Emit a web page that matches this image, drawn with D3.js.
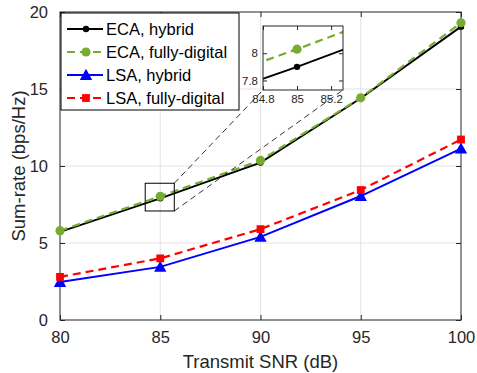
<!DOCTYPE html>
<html>
<head>
<meta charset="utf-8">
<script src="https://cdn.jsdelivr.net/npm/d3@7"></script>
<style>
body { margin: 0; background: #fff; }
svg { font-family: "Liberation Sans", Arial, sans-serif; }
</style>
</head>
<body>
<div id="chart"></div>
<script>
// data
var snr = [80, 85, 90, 95, 100];
var ecaHybrid = [5.72, 7.9, 10.22, 14.4, 19.05];
var ecaDigital = [5.8, 8.03, 10.36, 14.43, 19.3];
var lsaHybrid = [2.47, 3.45, 5.4, 8.05, 11.13];
var lsaDigital = [2.8, 4.0, 5.9, 8.44, 11.72];
var xTicks = [80, 85, 90, 95, 100];
var yTicks = [0, 5, 10, 15, 20];
var insetXTicks = [84.8, 85, 85.2];
var insetYTicks = [7.8, 8];
var zoomBox = {x0: 84.25, x1: 85.7, y0: 7.08, y1: 8.88};

var series = [
  {name: "ECA, hybrid", values: ecaHybrid, color: "#000000", dash: null, marker: "dot", width: 2},
  {name: "ECA, fully-digital", values: ecaDigital, color: "#77AC30", dash: "8,5", marker: "circle", width: 2.2},
  {name: "LSA, hybrid", values: lsaHybrid, color: "#0000FF", dash: null, marker: "triangle", width: 2},
  {name: "LSA, fully-digital", values: lsaDigital, color: "#FF0000", dash: "8,5", marker: "square", width: 2.2}
];

var W = 477, H = 373;
var margin = {top: 12, right: 16, bottom: 53, left: 60};
var width = W - margin.left - margin.right,
    height = H - margin.top - margin.bottom;

var svg = d3.select("#chart").append("svg")
  .attr("width", W).attr("height", H);
var g = svg.append("g")
  .attr("transform", "translate(" + margin.left + "," + margin.top + ")");

var x = d3.scaleLinear().domain([80, 100]).range([0, width]);
var y = d3.scaleLinear().domain([0, 20]).range([height, 0]);

// grid
g.append("g").selectAll("line").data(xTicks.slice(1, -1)).enter().append("line")
  .attr("x1", d => x(d)).attr("x2", d => x(d)).attr("y1", 0).attr("y2", height)
  .attr("stroke", "#e3e3e3").attr("stroke-width", 1);
g.append("g").selectAll("line").data(yTicks.slice(1, -1)).enter().append("line")
  .attr("y1", d => y(d)).attr("y2", d => y(d)).attr("x1", 0).attr("x2", width)
  .attr("stroke", "#e3e3e3").attr("stroke-width", 1);

function styleAxis(sel, fs) {
  sel.select(".domain").remove();
  sel.selectAll(".tick line").attr("stroke", "#262626");
  sel.selectAll(".tick text").attr("fill", "#262626").style("font-size", fs + "px");
}

var fmt = function(d) { return String(+d.toFixed(2)); };

// axes, ticks pointing inward like matlab
g.append("g").attr("transform", "translate(0," + height + ")")
  .call(d3.axisBottom(x).tickValues(xTicks).tickSizeInner(-5).tickSizeOuter(0).tickPadding(11))
  .call(s => styleAxis(s, 16.5));
g.append("g")
  .call(d3.axisLeft(y).tickValues(yTicks).tickSizeInner(-5).tickSizeOuter(0).tickPadding(12))
  .call(s => styleAxis(s, 16.5));
g.append("g")
  .call(d3.axisTop(x).tickValues(xTicks).tickSizeInner(-5).tickSizeOuter(0).tickFormat(""))
  .call(s => styleAxis(s, 16.5));
g.append("g").attr("transform", "translate(" + width + ",0)")
  .call(d3.axisRight(y).tickValues(yTicks).tickSizeInner(-5).tickSizeOuter(0).tickFormat(""))
  .call(s => styleAxis(s, 16.5));
g.append("rect").attr("width", width).attr("height", height)
  .attr("fill", "none").attr("stroke", "#262626").attr("stroke-width", 1);

// labels
svg.append("text").attr("x", margin.left + width / 2).attr("y", 368)
  .attr("text-anchor", "middle").attr("fill", "#262626").style("font-size", "18.5px")
  .text("Transmit SNR (dB)");
svg.append("text").attr("transform", "translate(25," + (margin.top + height / 2) + ") rotate(-90)")
  .attr("text-anchor", "middle").attr("fill", "#262626").style("font-size", "18.5px")
  .text("Sum-rate (bps/Hz)");

function drawMarker(sel, s, cx, cy, k) {
  k = k || 1;
  if (s.marker == "dot") {
    sel.append("circle").attr("cx", cx).attr("cy", cy).attr("r", 3.2 * k).attr("fill", s.color);
  } else if (s.marker == "circle") {
    sel.append("circle").attr("cx", cx).attr("cy", cy).attr("r", 4.6 * k).attr("fill", s.color);
  } else if (s.marker == "triangle") {
    var r = 6.2 * k;
    sel.append("path").attr("d", "M" + cx + "," + (cy - r) + "L" + (cx + r) + "," + (cy + r * 0.8) +
      "L" + (cx - r) + "," + (cy + r * 0.8) + "Z").attr("fill", s.color);
  } else if (s.marker == "square") {
    var h = 3.9 * k;
    sel.append("rect").attr("x", cx - h).attr("y", cy - h).attr("width", 2 * h).attr("height", 2 * h)
      .attr("fill", s.color);
  }
}

function drawSeries(grp, xs, ys, k) {
  series.forEach(function(s) {
    var line = d3.line().x((d, i) => xs(snr[i])).y(d => ys(d));
    grp.append("path").datum(s.values)
      .attr("d", line).attr("fill", "none")
      .attr("stroke", s.color).attr("stroke-width", s.width)
      .attr("stroke-dasharray", s.dash);
    var mg = grp.append("g");
    s.values.forEach(function(v, i) { drawMarker(mg, s, xs(snr[i]), ys(v), k); });
  });
}

drawSeries(g, x, y, 1);

// zoom box on main plot
g.append("rect")
  .attr("x", x(zoomBox.x0)).attr("y", y(zoomBox.y1))
  .attr("width", x(zoomBox.x1) - x(zoomBox.x0)).attr("height", y(zoomBox.y0) - y(zoomBox.y1))
  .attr("fill", "none").attr("stroke", "#000").attr("stroke-width", 1);

// legend
var lg = svg.append("g").attr("transform", "translate(61,13)");
lg.append("rect").attr("width", 178).attr("height", 97)
  .attr("fill", "#fff").attr("stroke", "#000").attr("stroke-width", 1);
series.forEach(function(s, i) {
  var cy = 16 + i * 23;
  lg.append("line").attr("x1", 6).attr("x2", 42).attr("y1", cy).attr("y2", cy)
    .attr("stroke", s.color).attr("stroke-width", s.width).attr("stroke-dasharray", s.dash);
  drawMarker(lg, s, 25, cy, 1);
  lg.append("text").attr("x", 45).attr("y", cy).attr("dy", "0.35em")
    .attr("fill", "#000").style("font-size", "16.5px").text(s.name);
});

// inset
var inset = {left: 263, top: 26, width: 80, height: 64};
var xi = d3.scaleLinear().domain([84.8, 85.27]).range([0, inset.width]);
var yi = d3.scaleLinear().domain([7.73, 8.2]).range([inset.height, 0]);

// connector lines
svg.append("line")
  .attr("x1", margin.left + x(zoomBox.x1)).attr("y1", margin.top + y(zoomBox.y1))
  .attr("x2", inset.left).attr("y2", inset.top + inset.height)
  .attr("stroke", "#000").attr("stroke-width", 0.8).attr("stroke-dasharray", "6,4");
svg.append("line")
  .attr("x1", margin.left + x(zoomBox.x1)).attr("y1", margin.top + y(zoomBox.y0))
  .attr("x2", inset.left + inset.width).attr("y2", inset.top + inset.height)
  .attr("stroke", "#000").attr("stroke-width", 0.8).attr("stroke-dasharray", "6,4");

var ig = svg.append("g").attr("transform", "translate(" + inset.left + "," + inset.top + ")");
ig.append("rect").attr("width", inset.width).attr("height", inset.height).attr("fill", "#fff");
svg.append("clipPath").attr("id", "insetClip").append("rect")
  .attr("width", inset.width).attr("height", inset.height);
var ic = ig.append("g").attr("clip-path", "url(#insetClip)");
drawSeries(ic, xi, yi, 1);

ig.append("g").attr("transform", "translate(0," + inset.height + ")")
  .call(d3.axisBottom(xi).tickValues(insetXTicks).tickSizeInner(-4).tickSizeOuter(0).tickPadding(5).tickFormat(fmt))
  .call(s => styleAxis(s, 11.5));
ig.append("g")
  .call(d3.axisLeft(yi).tickValues(insetYTicks).tickSizeInner(-4).tickSizeOuter(0).tickPadding(5).tickFormat(fmt))
  .call(s => styleAxis(s, 11.5));
ig.append("g")
  .call(d3.axisTop(xi).tickValues(insetXTicks).tickSizeInner(-4).tickSizeOuter(0).tickFormat(""))
  .call(s => styleAxis(s, 11.5));
ig.append("g").attr("transform", "translate(" + inset.width + ",0)")
  .call(d3.axisRight(yi).tickValues(insetYTicks).tickSizeInner(-4).tickSizeOuter(0).tickFormat(""))
  .call(s => styleAxis(s, 11.5));
ig.append("rect").attr("width", inset.width).attr("height", inset.height)
  .attr("fill", "none").attr("stroke", "#262626").attr("stroke-width", 1);
</script>
</body>
</html>
